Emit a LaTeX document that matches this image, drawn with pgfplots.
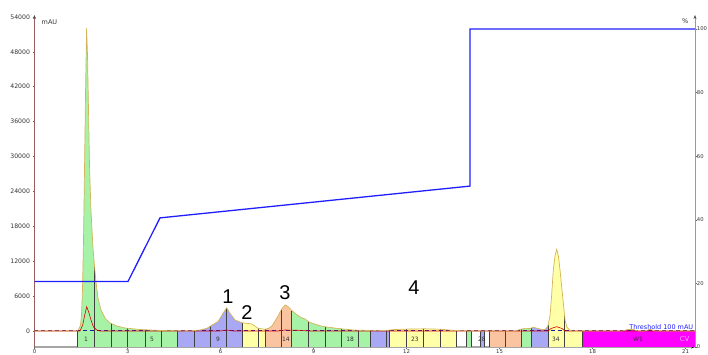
\documentclass[border=0pt]{standalone}
\usepackage{pgfplots}
\pgfplotsset{compat=1.18}
\usepgfplotslibrary{fillbetween}
\usetikzlibrary{arrows.meta}
\usepackage{fontspec}
\setmainfont{DejaVu Sans}
\newfontfamily\arialf{Liberation Sans}
\definecolor{cgreen}{RGB}{166,242,166}
\definecolor{cblue}{RGB}{168,168,245}
\definecolor{cyellow}{RGB}{255,255,168}
\definecolor{csalmon}{RGB}{250,196,160}
\definecolor{cmag}{RGB}{255,0,255}
\definecolor{ctrace}{RGB}{212,180,90}
\definecolor{cgrad}{RGB}{30,30,255}
\definecolor{cnavy}{RGB}{30,30,160}
\definecolor{caxisl}{RGB}{150,95,95}
\definecolor{ccv}{RGB}{230,170,240}
\pgfplotstableread{
x y
0 0
1.371 0
1.435 344
1.484 1031
1.516 2750
1.548 7048
1.581 15643
1.613 27676
1.645 40568
1.68 52000
1.71 47444
1.742 37990
1.774 28535
1.823 20456
1.887 14268
1.935 11174
1.984 8423
2.048 5673
2.145 3610
2.274 2235
2.435 1375
2.661 860
2.919 516
3.403 258
4.048 86
5.016 0
5.339 172
5.565 464
5.726 1031
5.919 1599
6.081 3043
6.2 4005
6.306 3043
6.468 1891
6.684 1427
6.855 1324
7.016 1203
7.21 464
7.435 292
7.55 464
7.661 860
7.855 2579
7.984 3868
8.081 4469
8.177 4212
8.297 3524
8.435 2922
8.565 2407
8.726 2063
8.887 1461
9.081 1117
9.306 774
9.748 464
10.274 172
10.92 52
11.306 86
11.629 258
12.113 344
12.597 378
13.081 309
13.565 86
14.05 0
15.5 0
15.661 258
15.823 464
15.984 430
16.09 636
16.242 430
16.371 258
16.468 258
16.555 739
16.629 2579
16.677 5845
16.735 10486
16.79 12893
16.845 14044
16.9 12893
16.952 10486
17.016 7048
17.065 4469
17.113 1891
17.168 739
17.242 258
17.339 0
18.95 0
19.145 258
19.306 258
19.468 0
19.69 0
19.855 292
20.016 0
21.306 0
}\tracetable
\pgfplotstableread{
x y
0 0
1.468 0
1.555 1031
1.613 2579
1.684 4177
1.758 3094
1.823 1891
1.897 739
2.006 172
2.113 0
5.984 0
6.2 172
6.4 0
7.855 0
8.081 172
8.5 120
8.887 0
16.565 0
16.661 430
16.845 739
17.016 430
17.113 0
21.306 0
}\redtable
\pgfplotstableread{
x y
1.394 -2750
1.394 200
nan nan
1.929 -2750
1.929 11300
nan nan
2.468 -2750
2.468 1300
nan nan
3.006 -2750
3.006 450
nan nan
3.565 -2750
3.565 240
nan nan
4.081 -2750
4.081 80
nan nan
4.619 -2750
4.619 0
nan nan
5.145 -2750
5.145 60
nan nan
5.671 -2750
5.671 800
nan nan
6.2 -2750
6.2 4005
nan nan
6.703 -2750
6.703 1420
nan nan
7.219 -2750
7.219 450
nan nan
7.435 -2750
7.435 292
nan nan
7.974 -2750
7.974 3800
nan nan
8.297 -2750
8.297 3524
nan nan
8.832 -2750
8.832 1650
nan nan
9.371 -2750
9.371 700
nan nan
9.910 -2750
9.910 380
nan nan
10.445 -2750
10.445 140
nan nan
10.823 -2750
10.823 60
nan nan
11.339 -2750
11.339 86
nan nan
11.445 -2750
11.445 150
nan nan
12.006 -2750
12.006 330
nan nan
12.542 -2750
12.542 370
nan nan
13.081 -2750
13.081 309
nan nan
13.619 -2750
13.619 60
nan nan
13.919 -2750
13.919 0
nan nan
14.081 -2750
14.081 0
nan nan
14.371 -2750
14.371 0
nan nan
14.5 -2750
14.5 0
nan nan
14.671 -2750
14.671 0
nan nan
15.2 -2750
15.2 0
nan nan
15.716 -2750
15.716 330
nan nan
16.039 -2750
16.039 550
nan nan
16.574 -2750
16.574 1100
nan nan
17.09 -2750
17.09 3000
nan nan
17.684 -2750
17.684 0
}\boundtable
\begin{document}
\begin{tikzpicture}
\begin{axis}[
  at={(34.5bp,8bp)}, anchor=south west,
  scale only axis, width=660.5bp, height=332bp,
  xmin=0, xmax=21.306, ymin=-2750, ymax=54320,
  axis x line=bottom, axis y line=left,
  x axis line style={draw=black!35, line width=1.4pt, -{Stealth[length=4pt,black]}},
  y axis line style={draw=caxisl, line width=0.6pt, -{Stealth[length=4pt,black!70]}},
  xtick={0,3,...,21}, ytick={0,6000,...,54000},
  scaled y ticks=false, scaled x ticks=false,
  tick align=outside, major tick length=2pt,
  tick style={black!60, line width=0.5pt},
  ticklabel style={font=\fontsize{6.2}{7}\selectfont, text=black!80},
  xticklabel style={font=\fontsize{5.4}{5.4}\selectfont, inner sep=0.4pt},
  yticklabel style={xshift=1pt},
  /pgf/number format/.cd, set thousands separator={}, assume math mode=true,
  /pgfplots/.cd,
  unbounded coords=jump,
  clip=false,
]
\addplot[name path=trace, draw=none, forget plot] table[x=x,y=y] {\tracetable};
\addplot[name path=base, draw=none, forget plot] coordinates {(0,0) (21.306,0)};
\addplot[fill=cgreen, draw=none] fill between[of=trace and base, soft clip={domain=1.394:4.619}];
\addplot[fill=cblue, draw=none] fill between[of=trace and base, soft clip={domain=4.619:6.703}];
\addplot[fill=cyellow, draw=none] fill between[of=trace and base, soft clip={domain=6.703:7.435}];
\addplot[fill=csalmon, draw=none] fill between[of=trace and base, soft clip={domain=7.435:8.297}];
\addplot[fill=cgreen, draw=none] fill between[of=trace and base, soft clip={domain=8.297:10.823}];
\addplot[fill=cblue, draw=none] fill between[of=trace and base, soft clip={domain=10.823:11.445}];
\addplot[fill=cyellow, draw=none] fill between[of=trace and base, soft clip={domain=11.445:13.619}];
\addplot[fill=cgreen, draw=none] fill between[of=trace and base, soft clip={domain=15.716:16.039}];
\addplot[fill=cblue, draw=none] fill between[of=trace and base, soft clip={domain=16.039:16.574}];
\addplot[fill=cyellow, draw=none] fill between[of=trace and base, soft clip={domain=16.574:17.684}];
\addplot[fill=cmag, draw=none] fill between[of=trace and base, soft clip={domain=17.684:21.306}];
% fraction bar
\addplot[fill=cgreen, draw=none] coordinates {(1.394,-2750) (1.394,0) (4.619,0) (4.619,-2750)};
\addplot[fill=cblue, draw=none] coordinates {(4.619,-2750) (4.619,0) (6.703,0) (6.703,-2750)};
\addplot[fill=cyellow, draw=none] coordinates {(6.703,-2750) (6.703,0) (7.435,0) (7.435,-2750)};
\addplot[fill=csalmon, draw=none] coordinates {(7.435,-2750) (7.435,0) (8.297,0) (8.297,-2750)};
\addplot[fill=cgreen, draw=none] coordinates {(8.297,-2750) (8.297,0) (10.823,0) (10.823,-2750)};
\addplot[fill=cblue, draw=none] coordinates {(10.823,-2750) (10.823,0) (11.445,0) (11.445,-2750)};
\addplot[fill=cyellow, draw=none] coordinates {(11.445,-2750) (11.445,0) (13.619,0) (13.619,-2750)};
\addplot[fill=cgreen, draw=none] coordinates {(13.919,-2750) (13.919,0) (14.081,0) (14.081,-2750)};
\addplot[fill=cblue, draw=none] coordinates {(14.371,-2750) (14.371,0) (14.5,0) (14.5,-2750)};
\addplot[fill=csalmon, draw=none] coordinates {(14.671,-2750) (14.671,0) (15.716,0) (15.716,-2750)};
\addplot[fill=cgreen, draw=none] coordinates {(15.716,-2750) (15.716,0) (16.039,0) (16.039,-2750)};
\addplot[fill=cblue, draw=none] coordinates {(16.039,-2750) (16.039,0) (16.574,0) (16.574,-2750)};
\addplot[fill=cyellow, draw=none] coordinates {(16.574,-2750) (16.574,0) (17.684,0) (17.684,-2750)};
\addplot[fill=cmag, draw=none] coordinates {(17.684,-2750) (17.684,0) (21.306,0) (21.306,-2750)};
% fraction boundaries
\addplot[black!75, line width=0.5pt] table[x=x,y=y] {\boundtable};
% threshold
\addplot[cnavy, line width=0.7pt, dash pattern=on 4pt off 3pt] coordinates {(0,100) (21.306,100)};
% second trace
\addplot[red!85!black, line width=0.6pt] table[x=x,y=y] {\redtable};
% main trace
\addplot[ctrace, line width=0.7pt] table[x=x,y=y] {\tracetable};
% labels
\node[anchor=west, font=\fontsize{6.5}{7}\selectfont, text=black!80] at (axis cs:0.12,53100) {mAU};
\node[font=\arialf\fontsize{20}{20}\selectfont] at (axis cs:6.24,5845) {1};
\node[font=\arialf\fontsize{20}{20}\selectfont] at (axis cs:6.855,3094) {2};
\node[font=\arialf\fontsize{20}{20}\selectfont] at (axis cs:8.08,6532) {3};
\node[font=\arialf\fontsize{20}{20}\selectfont] at (axis cs:12.24,7390) {4};
\node[anchor=south east, inner sep=0.5pt, text=cgrad, font=\fontsize{6.5}{7}\selectfont] at (axis cs:21.27,120) {Threshold 100 mAU};
\node[font=\fontsize{6}{6}\selectfont, text=black!80, inner sep=0pt] at (axis cs:1.66,-1450) {1};
\node[font=\fontsize{6}{6}\selectfont, text=black!80, inner sep=0pt] at (axis cs:3.79,-1450) {5};
\node[font=\fontsize{6}{6}\selectfont, text=black!80, inner sep=0pt] at (axis cs:5.92,-1450) {9};
\node[font=\fontsize{6}{6}\selectfont, text=black!80, inner sep=0pt] at (axis cs:8.11,-1450) {14};
\node[font=\fontsize{6}{6}\selectfont, text=black!80, inner sep=0pt] at (axis cs:10.18,-1450) {18};
\node[font=\fontsize{6}{6}\selectfont, text=black!80, inner sep=0pt] at (axis cs:12.27,-1450) {23};
\node[font=\fontsize{6}{6}\selectfont, text=black!80, inner sep=0pt] at (axis cs:14.43,-1450) {28};
\node[font=\fontsize{6}{6}\selectfont, text=black!80, inner sep=0pt] at (axis cs:16.82,-1450) {34};
\node[font=\fontsize{6}{6}\selectfont, text=black!80, inner sep=0pt] at (axis cs:19.47,-1450) {W1};
\node[font=\fontsize{7}{7}\selectfont, text=ccv, inner sep=0pt] at (axis cs:20.97,-1300) {CV};
\end{axis}
\begin{axis}[
  at={(34.5bp,8bp)}, anchor=south west,
  scale only axis, width=660.5bp, height=332bp,
  xmin=0, xmax=21.306, ymin=0, ymax=104.4,
  axis x line=none, axis y line=right,
  y axis line style={draw=black!40, line width=0.8pt, -{Stealth[length=4pt,black!70]}},
  ytick={0,20,...,100},
  tick align=outside, major tick length=1.5pt,
  tick style={black!60, line width=0.5pt},
  ticklabel style={font=\fontsize{5.3}{6}\selectfont, text=black!80, inner sep=0.3pt},
  /pgf/number format/assume math mode=true,
  clip=false,
]
\addplot[cgrad, line width=1.3pt] coordinates {(0,20.6) (3.016,20.6) (4.048,40.6) (14.05,50.6) (14.05,100) (21.306,100)};
\node[anchor=east, font=\fontsize{6.5}{7}\selectfont, text=black!80] at (axis cs:21.2,102.6) {\%};
\end{axis}
\pgfresetboundingbox
\path[use as bounding box] (0,0) rectangle (708bp,355bp);
\end{tikzpicture}
\end{document}
